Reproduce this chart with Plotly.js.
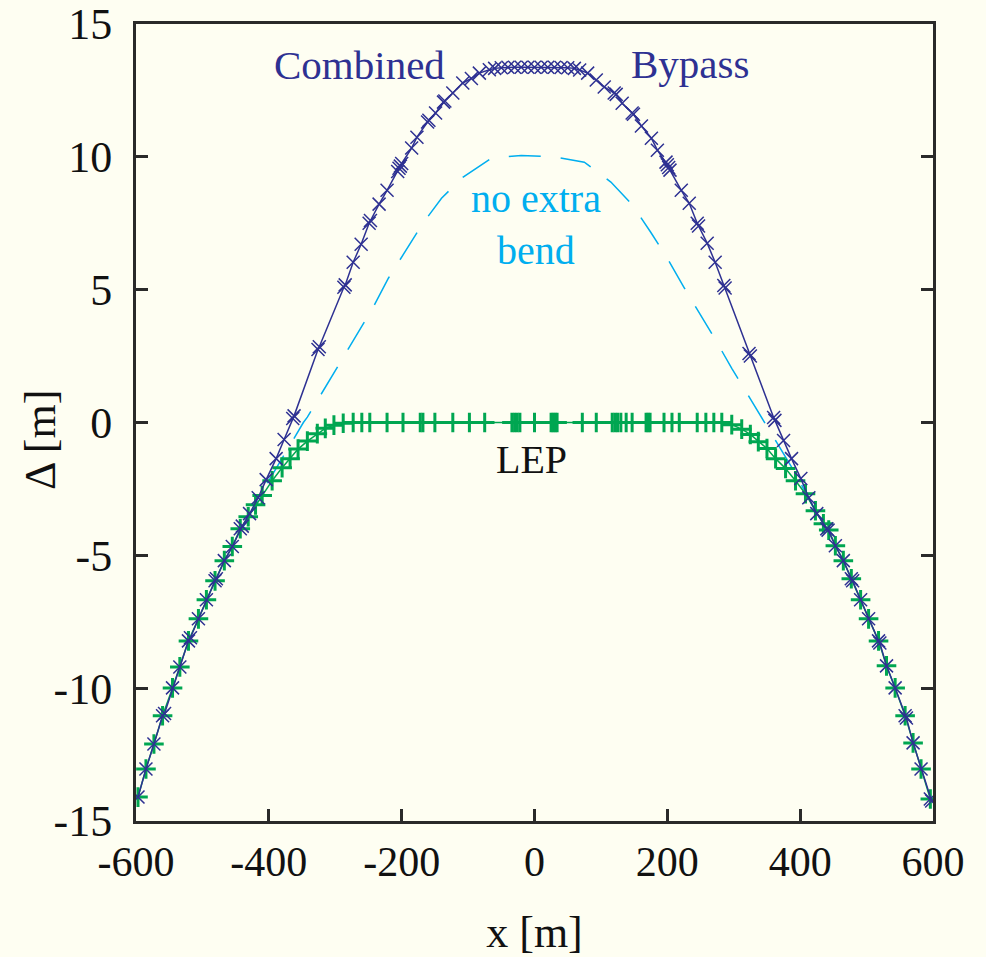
<!DOCTYPE html>
<html>
<head>
<meta charset="utf-8">
<script src="https://cdn.plot.ly/plotly-3.0.1.min.js"></script>
<style>
  .modebar-container { display: none !important; }
  #chart svg text { font-family: 'Liberation Serif', serif !important; }
</style>
</head>
<body style="margin:0;background:#fefef2">
<div id="chart" style="width:986px;height:957px"></div>
<script>
// Combined Bypass (dark blue, solid with x markers)
const bypassX = [-597,-585,-573,-560,-557,-545,-534,-521,-518,-506,-494,-481,-479,-467,-455,-443,-440,-429,-416,-404,-389,-377,-364,-362,-326,-324,-287,-285,-273,-261,-249,-247,-234,-222,-206,-204,-202,-200,-185,-177,-161,-159,-149,-137,-135,-123,-108,-95,-83,-68,-60,-50,-40,-30,-20,-10,0,10,20,30,40,50,60,68,80,93,105,120,123,132,147,149,161,176,185,198,200,202,204,221,233,245,247,260,272,285,287,323,325,360,362,375,387,401,413,425,440,442,453,465,477,479,491,503,518,520,530,543,558,560,570,582,596,598];
const bypassY = [-14.10,-13.04,-12.10,-11.04,-10.95,-9.99,-9.20,-8.22,-8.10,-7.39,-6.67,-5.96,-5.88,-5.20,-4.67,-4.00,-3.90,-3.43,-2.83,-2.15,-1.36,-0.64,0.15,0.25,2.75,2.85,5.09,5.18,6.03,6.71,7.50,7.60,8.22,8.74,9.45,9.57,9.65,9.75,10.33,10.74,11.31,11.38,11.65,12.06,12.10,12.40,12.78,12.95,13.15,13.28,13.33,13.35,13.37,13.37,13.37,13.37,13.37,13.37,13.37,13.37,13.36,13.35,13.33,13.27,13.15,12.89,12.63,12.40,12.35,12.02,11.65,11.60,11.16,10.70,10.25,9.80,9.70,9.60,9.50,8.74,8.25,7.50,7.40,6.75,6.03,5.16,5.06,2.60,2.50,0.19,0.08,-0.68,-1.36,-2.11,-2.83,-3.43,-4.00,-4.05,-4.64,-5.20,-5.88,-5.96,-6.67,-7.39,-8.22,-8.30,-9.16,-9.99,-11.04,-11.12,-12.06,-13.04,-14.17,-14.25];

// LEP (green, solid with + markers)
const lepX = [-597,-585,-573,-560,-545,-534,-521,-506,-494,-481,-467,-455,-443,-431,-420,-410,-395,-380,-368,-356,-342,-327,-315,-302,-288,-273,-260,-248,-222,-198,-172,-168,-150,-123,-98,-75,-34,-30,-26,-22,0,25,28,31,34,72,93,117,121,125,130,138,147,168,171,174,195,207,218,245,258,270,282,297,312,325,337,350,363,378,393,408,423,435,443,453,465,477,491,503,518,530,543,558,570,582,596];
const lepY = [-14.10,-13.04,-12.10,-11.04,-9.99,-9.20,-8.22,-7.39,-6.67,-5.96,-5.20,-4.67,-4.00,-3.55,-3.10,-2.75,-2.19,-1.70,-1.36,-1.00,-0.70,-0.42,-0.22,-0.10,-0.03,0,0,0,0,0,0,0,0,0,0,0,0,0,0,0,0,0,0,0,0,0,0,0,0,0,0,0,0,0,0,0,0,0,0,0,0,0,0,-0.08,-0.25,-0.45,-0.72,-0.98,-1.36,-1.73,-2.19,-2.68,-3.32,-3.81,-4.05,-4.64,-5.20,-5.88,-6.67,-7.39,-8.22,-9.16,-9.99,-11.04,-12.06,-13.04,-14.17];

// No extra bend (cyan, dashed)
const noBendX = [-440,-425,-410,-393,-372,-348,-342,-318,-292,-267,-243,-220,-195,-168,-140,-108,-65,-20,30,75,115,147,175,200,225,249,273,297,322,348,372,393,417,438];
const noBendY = [-4.0,-3.3,-2.6,-1.9,-1.0,0.0,0.2,1.2,2.26,3.35,4.33,5.43,6.41,7.5,8.44,9.23,9.95,10.05,10.0,9.8,9.05,8.2,7.16,6.18,5.09,4.1,3.09,2.04,1.02,-0.04,-1.06,-1.92,-3.05,-3.96];

const xTicks = [-600,-400,-200,0,200,400,600];
const yTicks = [-15,-10,-5,0,5,10,15];

const BLUE = '#2e3192', GREEN = '#00a651', CYAN = '#00aeef';
const SERIF = 'serif';

const traces = [
  { x: noBendX, y: noBendY, type: 'scatter', mode: 'lines', name: 'no extra bend',
    line: { color: CYAN, width: 1.5, dash: '32px,20px' } },
  { x: lepX, y: lepY, type: 'scatter', mode: 'lines+markers', name: 'LEP',
    line: { color: GREEN, width: 1.5 },
    marker: { symbol: 'cross-thin-open', size: 14, color: GREEN, line: { color: GREEN, width: 3 } } },
  { x: bypassX, y: bypassY, type: 'scatter', mode: 'lines+markers', name: 'Combined Bypass',
    line: { color: BLUE, width: 1.5 },
    marker: { symbol: 'x-thin-open', size: 13, color: BLUE, line: { color: BLUE, width: 1.5 } } }
];

const layout = {
  width: 986, height: 957,
  paper_bgcolor: '#fefef2', plot_bgcolor: '#fefef2',
  margin: { l: 136, r: 53, t: 24, b: 136 },
  showlegend: false,
  font: { family: SERIF, size: 42 },
  xaxis: {
    range: [-600, 600], tickvals: xTicks, ticktext: xTicks.map(String),
    ticks: 'inside', ticklen: 12, tickwidth: 2.5, tickcolor: '#2a2a2a',
    showline: true, linecolor: '#2a2a2a', linewidth: 3, mirror: true,
    showgrid: false, zeroline: false, ticklabelstandoff: 2,
    tickfont: { family: SERIF, size: 42, color: '#111' },
    title: { text: 'x [m]', font: { family: SERIF, size: 44, color: '#111' }, standoff: 32 }
  },
  yaxis: {
    range: [-15, 15], tickvals: yTicks, ticktext: yTicks.map(String),
    ticks: 'inside', ticklen: 12, tickwidth: 2.5, tickcolor: '#2a2a2a',
    showline: true, linecolor: '#2a2a2a', linewidth: 3, mirror: 'ticks',
    showgrid: false, zeroline: false, ticklabelstandoff: 12,
    tickfont: { family: SERIF, size: 44, color: '#111' }
  },
  annotations: [
    { xref: 'paper', yref: 'paper', x: -0.1205, y: 0.478, text: 'Δ [m]', textangle: -90,
      showarrow: false, xanchor: 'center', yanchor: 'middle',
      font: { family: SERIF, size: 44, color: '#111' } },
    { x: -263, y: 13.45, text: 'Combined', showarrow: false, xanchor: 'center', yanchor: 'middle',
      font: { family: SERIF, size: 41, color: BLUE } },
    { x: 234, y: 13.5, text: 'Bypass', showarrow: false, xanchor: 'center', yanchor: 'middle',
      font: { family: SERIF, size: 41, color: BLUE } },
    { x: 3, y: 7.45, text: 'no extra<br>bend', showarrow: false, xanchor: 'center', yanchor: 'middle',
      font: { family: SERIF, size: 40, color: CYAN } },
    { x: -4, y: -1.4, text: 'LEP', showarrow: false, xanchor: 'center', yanchor: 'middle',
      font: { family: SERIF, size: 40, color: '#111' } }
  ]
};

Plotly.newPlot('chart', traces, layout);
</script>
</body>
</html>
